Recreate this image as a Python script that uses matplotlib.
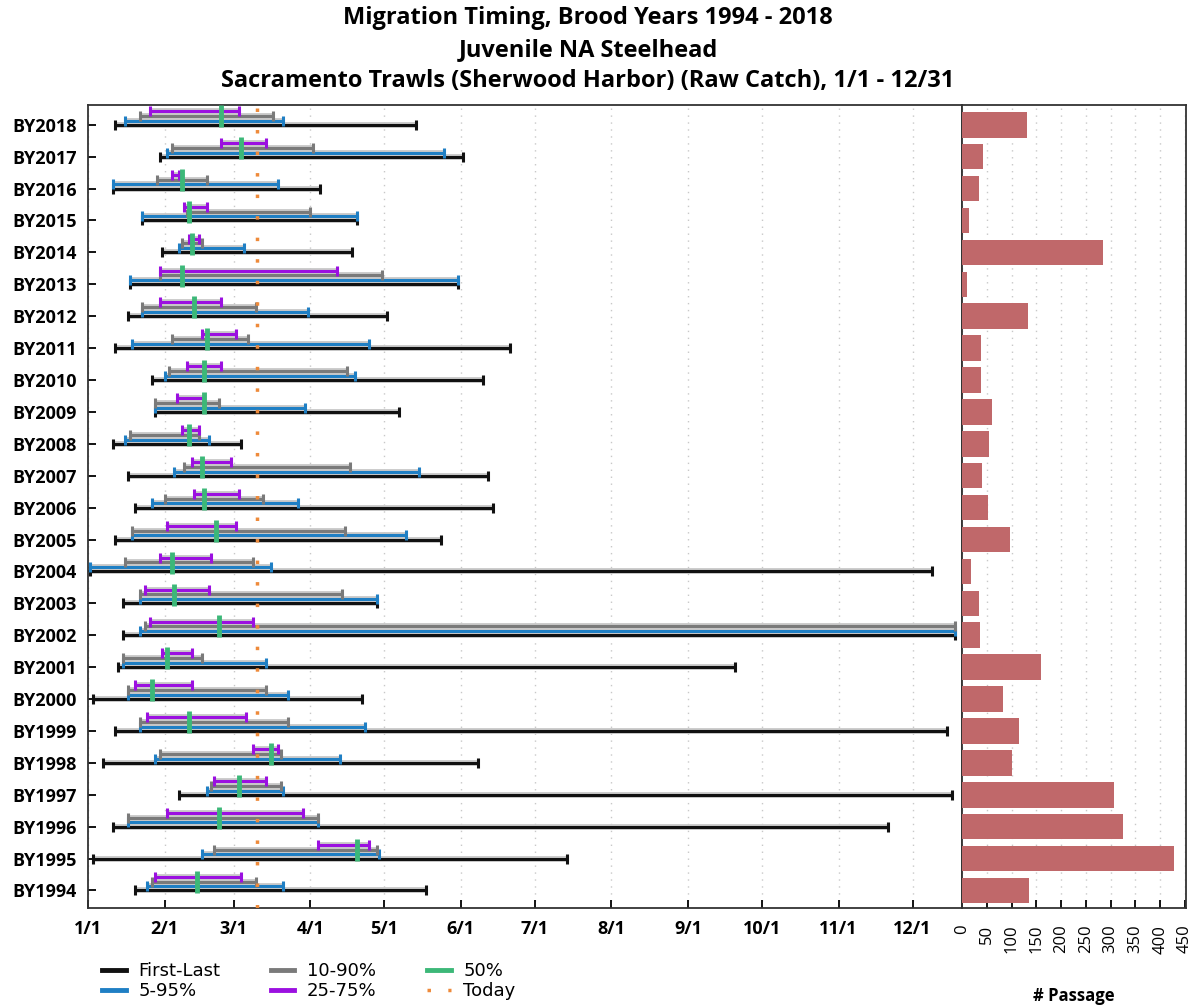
import numpy as np
import matplotlib
matplotlib.use("Agg")
import matplotlib.pyplot as plt
import matplotlib.patheffects as pe
from matplotlib.lines import Line2D

plt.rcParams['font.family'] = ['Open Sans', 'DejaVu Sans']

# brood years, bottom to top
years = [1994, 1995, 1996, 1997, 1998, 1999, 2000, 2001, 2002, 2003, 2004, 2005,
         2006, 2007, 2008, 2009, 2010, 2011, 2012, 2013, 2014, 2015, 2016, 2017, 2018]

# day of year (0 = 1/1)
first = [19, 2, 10, 37, 6, 11, 2, 12, 14, 14, 1, 11, 19, 16, 10, 27, 26, 11, 16, 17, 30, 22, 10, 29, 11]
last = [137, 194, 324, 350, 158, 348, 111, 262, 351, 117, 342, 143, 164, 162, 62, 126, 160, 171, 121, 150, 107, 109, 94, 152, 133]
p05 = [24, 46, 16, 48, 27, 21, 16, 14, 21, 21, 1, 18, 26, 35, 15, 27, 31, 18, 22, 17, 37, 22, 10, 32, 15]
p95 = [79, 118, 93, 79, 102, 112, 81, 72, 351, 117, 74, 129, 85, 134, 49, 88, 108, 114, 89, 150, 63, 109, 77, 144, 79]
p10 = [26, 51, 16, 50, 29, 21, 16, 14, 23, 21, 15, 18, 31, 39, 17, 27, 33, 34, 22, 29, 38, 40, 28, 34, 21]
p90 = [68, 117, 93, 78, 78, 81, 72, 46, 351, 103, 67, 104, 71, 106, 45, 53, 105, 65, 68, 119, 46, 90, 48, 91, 75]
p25 = [27, 93, 32, 51, 67, 24, 19, 30, 25, 23, 29, 32, 43, 42, 38, 36, 40, 46, 29, 29, 41, 39, 34, 54, 25]
p75 = [62, 114, 87, 72, 77, 64, 42, 42, 67, 49, 50, 60, 61, 58, 45, 47, 54, 60, 54, 101, 45, 48, 37, 72, 61]
p50 = [44, 109, 53, 61, 74, 41, 26, 32, 53, 35, 34, 52, 47, 46, 41, 47, 47, 48, 43, 38, 42, 41, 38, 62, 54]
passage = [135, 428, 325, 307, 100, 115, 83, 159, 36, 35, 19, 97, 53, 41, 55, 61, 39, 39, 133, 11, 285, 15, 35, 43, 131]
today = 68.5

month_days = [0, 31, 59, 90, 120, 151, 181, 212, 243, 273, 304, 334]
month_labels = ['1/1', '2/1', '3/1', '4/1', '5/1', '6/1', '7/1', '8/1', '9/1', '10/1', '11/1', '12/1']
year_labels = ['BY%d' % y for y in years]

C_BLACK = '#111111'
C_BLUE = '#1f7fc4'
C_GRAY = '#7a7a7a'
C_PURPLE = '#9b10e0'
C_GREEN = '#3cb878'
C_ORANGE = '#ee8a3a'
C_BAR = '#c0686a'

halo = [pe.Stroke(linewidth=4.2, foreground='#c9c9c9'), pe.Normal()]


def draw_range(ax, ys, lo, hi, color):
    ax.hlines(ys, lo, hi, color=color, lw=2.2, path_effects=halo, zorder=3)
    ax.plot(np.r_[lo, hi], np.r_[ys, ys], ls='none', marker='|', ms=7, mew=2.2,
            color=color, zorder=3)


fig = plt.figure(figsize=(12, 10.08), dpi=100)
ax = fig.add_axes([88 / 1200, 100 / 1008, 874 / 1200, 803 / 1008])
axb = fig.add_axes([962 / 1200, 100 / 1008, 224 / 1200, 803 / 1008])

y = np.arange(len(years))
draw_range(ax, y, first, last, C_BLACK)
draw_range(ax, y + 0.13, p05, p95, C_BLUE)
draw_range(ax, y + 0.28, p10, p90, C_GRAY)
draw_range(ax, y + 0.43, p25, p75, C_PURPLE)
ax.vlines(p50, y - 0.07, y + 0.62, color=C_GREEN, lw=3.5, zorder=4)
ax.axvline(today, color=C_ORANGE, lw=2.5, ls=(0, (1, 5.2)), zorder=5)

ax.set_xlim(0, 354)
ax.set_ylim(-0.55, 24.62)
ax.set_xticks(month_days)
ax.set_xticklabels(month_labels, fontsize=13, fontweight='bold')
ax.set_yticks(y)
ax.set_yticklabels(year_labels, fontsize=13, fontweight='bold')
ax.tick_params(direction='in', length=6, width=1.3, pad=8)
ax.tick_params(axis='x', pad=9)
ax.grid(axis='x', color='#c8c8c8', ls=(0, (1, 4)), lw=1)
for s in ax.spines.values():
    s.set_color('#333333')
    s.set_linewidth(1.3)

axb.barh(y, passage, height=0.8, color=C_BAR, zorder=3)
axb.set_xlim(0, 452)
axb.set_ylim(ax.get_ylim())
axb.set_yticks([])
axb.set_xticks(np.arange(0, 451, 50))
axb.set_xticklabels([str(v) for v in range(0, 451, 50)], rotation=90, fontsize=12)
axb.tick_params(direction='in', length=6, width=1.3, pad=12)
axb.grid(axis='x', color='#c8c8c8', ls=(0, (1, 4)), lw=1)
axb.set_xlabel('# Passage', fontsize=12, fontweight='bold', labelpad=24)
for s in axb.spines.values():
    s.set_color('#333333')
    s.set_linewidth(1.3)

fig.text(0.49, 1 - 6 / 1008, 'Migration Timing, Brood Years 1994 - 2018\n'
         'Juvenile NA Steelhead\n'
         'Sacramento Trawls (Sherwood Harbor) (Raw Catch), 1/1 - 12/31',
         ha='center', va='top', fontsize=17, fontweight='bold', linespacing=1.42)

handles = [Line2D([], [], color=C_BLACK, lw=3.5),
           Line2D([], [], color=C_BLUE, lw=3.5),
           Line2D([], [], color=C_GRAY, lw=3.5),
           Line2D([], [], color=C_PURPLE, lw=3.5),
           Line2D([], [], color=C_GREEN, lw=3.5),
           Line2D([], [], color=C_ORANGE, lw=2.5, ls=(0, (1, 5)))]
labels = ['First-Last', '5-95%', '10-90%', '25-75%', '50%', 'Today']
fig.legend(handles, labels, ncol=3, frameon=False,
           prop={'family': ['DejaVu Sans'], 'size': 13},
           loc='upper left', bbox_to_anchor=(86 / 1200, 1 - 946 / 1008),
           handlelength=1.3, handletextpad=0.7, columnspacing=2.8,
           labelspacing=0.1)

fig.savefig('out.png', dpi=100)
